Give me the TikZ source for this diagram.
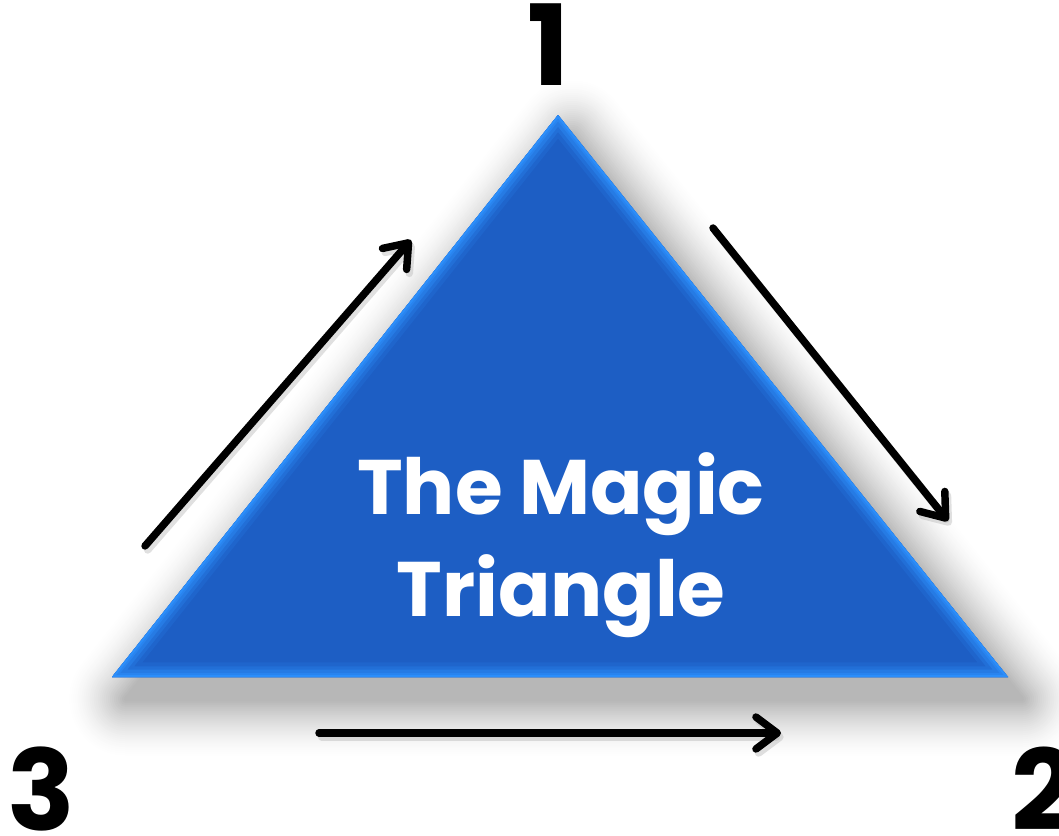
\documentclass[tikz,border=0pt]{standalone}
\usepackage{fontspec}
\setmainfont{Poppins}
\usetikzlibrary{arrows.meta}

\definecolor{magicblue}{RGB}{29,94,196}
\definecolor{magicedge}{RGB}{44,142,250}

\tikzset{
  cornernum/.style={font=\bfseries\fontsize{84}{84}\selectfont, text=black, inner sep=0pt, anchor=base},
  turnarrow/.style={line width=5.6pt, line cap=round, -{Straight Barb[round, length=16pt, width=24pt]}},
}

\begin{document}
\begin{tikzpicture}[x=0.75pt, y=-0.75pt]
    \useasboundingbox (0,0) rectangle (1059,835);
    % corners of the triangle
    \coordinate (top) at (558,115);
    \coordinate (right) at (1008,677);
    \coordinate (left) at (112,677);
    % soft shadow, wide light layers first
    \foreach \i [evaluate=\i as \p using {30*(1-\i/30)^1.6}] in {30,29,...,1}
        \filldraw[black!\p, line width=3*\i pt, line join=round]
            ([shift={(14,22)}]top) -- ([shift={(14,22)}]right) -- ([shift={(14,22)}]left) -- cycle;
    % triangle
    \fill[magicblue] (top) -- (right) -- (left) -- cycle;
    \begin{scope}
        \clip (top) -- (right) -- (left) -- cycle;
        \foreach \w/\m in {22/15, 16/35, 11/60, 6/80, 3/100}
            \draw[line width=\w pt, line join=miter, magicedge!\m!magicblue] (top) -- (right) -- (left) -- cycle;
    \end{scope}
    \node[text=white, align=center, font=\bfseries\fontsize{58}{76}\selectfont] (title) at (561,545) {The Magic\\Triangle};
    % numbers at the corners
    \node[cornernum] (one) at (549,85) {1};
    \node[cornernum] (three) at (41,830) {3};
    \node[cornernum] (two) at (1043,830) {2};
    % arrows round the triangle
    \coordinate (a1) at (145,546);
    \coordinate (b1) at (411,240);
    \coordinate (a2) at (713,228);
    \coordinate (b2) at (948,521);
    \coordinate (a3) at (319,733);
    \coordinate (b3) at (781,733);
    \foreach \s/\e in {a1/b1, a2/b2, a3/b3} {
        \draw[turnarrow, black!30, opacity=0.4, transform canvas={xshift=2pt, yshift=-3pt}] (\s) -- (\e);
        \draw[turnarrow] (\s) -- (\e);
    }
\end{tikzpicture}
\end{document}
